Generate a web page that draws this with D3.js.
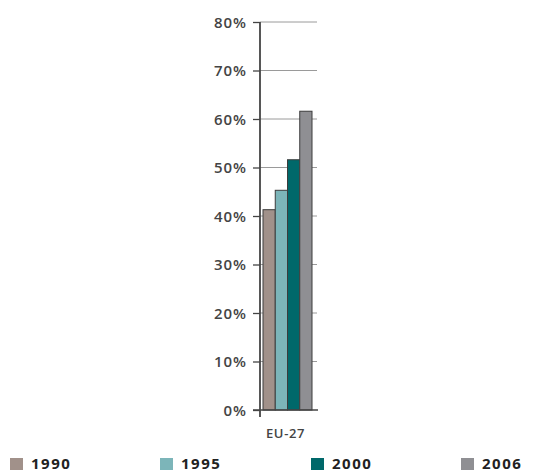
<!DOCTYPE html>
<html>
<head>
<meta charset="utf-8">
<script src="https://cdn.jsdelivr.net/npm/d3@7"></script>
<style>
  body { margin: 0; background: #fff; }
  svg text { font-family: "Open Sans", "DejaVu Sans", sans-serif; }
</style>
</head>
<body>
<div id="chart"></div>
<script>
// data
const categories = ['EU-27'];
const years = ['1990', '1995', '2000', '2006'];
const values = [41.3, 45.3, 51.6, 61.6];
const colors = ['#a1918a', '#7cb5b9', '#00686a', '#8f8f93'];
const yTicks = [0, 10, 20, 30, 40, 50, 60, 70, 80];

const width = 547, height = 472;
const svg = d3.select('#chart').append('svg')
    .attr('width', width)
    .attr('height', height);

const y = d3.scaleLinear().domain([0, 80]).range([410, 22]);
const x0 = d3.scaleBand().domain(categories).range([260, 317]);
const x1 = d3.scaleBand().domain(years).range([x0('EU-27') + 3, x0('EU-27') + x0.bandwidth() - 5]);

// gridlines (behind bars)
svg.append('g')
  .selectAll('line')
  .data(yTicks.filter(d => d > 0))
  .join('line')
    .attr('x1', 260)
    .attr('x2', 317)
    .attr('y1', d => y(d))
    .attr('y2', d => y(d))
    .attr('stroke', '#9a9a9a')
    .attr('stroke-width', 1);

// bars
svg.append('g')
  .selectAll('rect')
  .data(years)
  .join('rect')
    .attr('x', d => x1(d))
    .attr('y', (d, i) => y(values[i]))
    .attr('width', x1.bandwidth())
    .attr('height', (d, i) => y(0) - y(values[i]))
    .attr('fill', (d, i) => colors[i])
    .attr('stroke', '#3c3c3c')
    .attr('stroke-width', 1);

// y axis
const yAxis = d3.axisLeft(y)
    .tickValues(yTicks)
    .tickFormat(d => d + '%')
    .tickSize(7)
    .tickSizeOuter(0)
    .tickPadding(6);

const gy = svg.append('g')
    .attr('transform', 'translate(260,0)')
    .call(yAxis);
gy.select('.domain').remove();
gy.selectAll('.tick line').attr('stroke', '#444').attr('stroke-width', 1.3);
gy.selectAll('.tick text')
    .attr('fill', '#444')
    .attr('dy', '0.36em')
    .style('font-size', '15px')
    .style('font-weight', 600)
    .style('letter-spacing', '1px');

// axis lines
svg.append('line')
    .attr('x1', 260).attr('x2', 260)
    .attr('y1', y(80)).attr('y2', y(0) + 7)
    .attr('stroke', '#444').attr('stroke-width', 1.8);
svg.append('line')
    .attr('x1', 253).attr('x2', 318)
    .attr('y1', y(0)).attr('y2', y(0))
    .attr('stroke', '#444').attr('stroke-width', 1.6);

svg.append('text')
    .attr('x', x0('EU-27') + x0.bandwidth() / 2 - 3)
    .attr('y', 438)
    .attr('text-anchor', 'middle')
    .attr('fill', '#444')
    .style('font-size', '13px')
    .style('font-weight', 600)
    .style('letter-spacing', '0.6px')
    .text(categories[0]);

// legend
const legendX = [10, 160, 311, 461];
const legend = svg.append('g')
  .selectAll('g')
  .data(years)
  .join('g')
    .attr('transform', (d, i) => `translate(${legendX[i]},458)`);

legend.append('rect')
    .attr('width', 13)
    .attr('height', 12)
    .attr('fill', (d, i) => colors[i]);

legend.append('text')
    .attr('x', 21)
    .attr('y', 11)
    .attr('fill', '#222')
    .style('font-size', '15px')
    .style('font-weight', 'bold')
    .style('letter-spacing', '1.5px')
    .text(d => d);
</script>
</body>
</html>
